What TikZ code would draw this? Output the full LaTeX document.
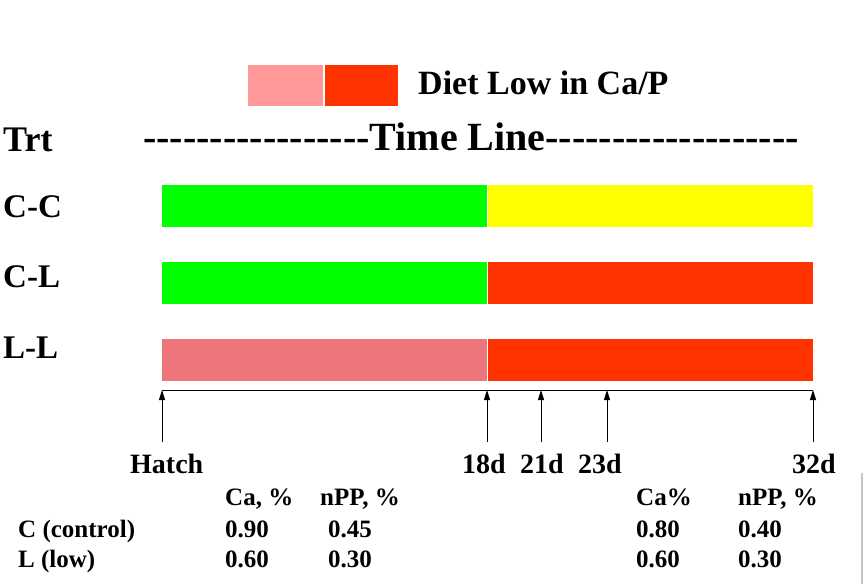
\documentclass[tikz,border=0pt]{standalone}
\usepackage{fontspec}
\setmainfont{Liberation Serif}
\usetikzlibrary{arrows.meta}
\definecolor{cgreen}{RGB}{0,255,0}
\definecolor{cyellow}{RGB}{255,255,0}
\definecolor{cred}{RGB}{255,51,0}
\definecolor{cpinkbar}{RGB}{237,118,123}
\definecolor{cpinkleg}{RGB}{255,153,153}
\newcommand{\dashrun}[1]{\foreach \i in {1,...,#1}{-}}
\begin{document}
\begin{tikzpicture}[x=1pt,y=-1pt,
  txt/.style={inner sep=0pt,anchor=base west,font=\bfseries},
  big/.style={txt,font=\bfseries\fontsize{40}{48}\selectfont},
  mid/.style={txt,font=\bfseries\fontsize{36}{42}\selectfont},
  row/.style={txt,font=\bfseries\fontsize{33}{40}\selectfont},
  lbl/.style={txt,font=\bfseries\fontsize{28}{34}\selectfont},
  tab/.style={txt,font=\bfseries\fontsize{25}{30}\selectfont},
  seg/.style={draw=none},
  tick/.style={line width=1pt,-{Triangle[length=10pt,width=6pt]}}]
\useasboundingbox[fill=white] (0,0) rectangle (864,584);
% legend
\fill[cpinkleg] (248,65) rectangle (323,106);
\fill[cred] (325,65) rectangle (398,106);
\node[txt,font=\bfseries\fontsize{34}{40}\selectfont] (legend) at (418,94) {Diet Low in Ca/P};
% headers
\node[mid] (trt) at (3,151) {Trt};
\node[big] (timeline) at (143,150) {-{}-{}-{}-{}-{}-{}-{}-{}-{}-{}-{}-{}-{}-{}-{}-{}-Time Line-{}-{}-{}-{}-{}-{}-{}-{}-{}-{}-{}-{}-{}-{}-{}-{}-{}-{}-};
% row labels
\node[row] (cc) at (3,217) {C-C};
\node[row] (cl) at (3,287) {C-L};
\node[row] (ll) at (3,358) {L-L};
% bars
\fill[cgreen] (162,185) rectangle (487,227);
\fill[cyellow] (488,185) rectangle (813,227);
\fill[cgreen] (162,262) rectangle (487,304);
\fill[cred] (488,262) rectangle (813,304);
\fill[cpinkbar] (162,339) rectangle (487,381);
\fill[cred] (488,339) rectangle (813,381);
% time axis
\coordinate (a0) at (162,390);
\coordinate (a1) at (487,390);
\coordinate (a2) at (541,390);
\coordinate (a3) at (607,390);
\coordinate (a4) at (813,390);
\coordinate (b0) at (162,442);
\coordinate (b1) at (487,442);
\coordinate (b2) at (541,442);
\coordinate (b3) at (607,442);
\coordinate (b4) at (813,442);
\draw[line width=1pt] (a0) -- (a4);
\foreach \k in {0,...,4} \draw[tick] (b\k) -- (a\k);
% labels
\node[lbl] (hatch) at (130,473) {Hatch};
\node[lbl] (d18) at (462,473) {18d};
\node[lbl] (d21) at (520,473) {21d};
\node[lbl] (d23) at (578,473) {23d};
\node[lbl] (d32) at (792,473) {32d};
% table
\node[tab] (h1) at (225,505) {Ca, \%};
\node[tab] (h2) at (320,505) {nPP, \%};
\node[tab] (h3) at (636,505) {Ca\%};
\node[tab] (h4) at (738,505) {nPP, \%};
\node[tab] (rc) at (18,537) {C (control)};
\node[tab] (c1) at (225,537) {0.90};
\node[tab] (c2) at (328,537) {0.45};
\node[tab] (c3) at (636,537) {0.80};
\node[tab] (c4) at (738,537) {0.40};
\node[tab] (rl) at (18,567) {L (low)};
\node[tab] (l1) at (225,567) {0.60};
\node[tab] (l2) at (328,567) {0.30};
\node[tab] (l3) at (636,567) {0.60};
\node[tab] (l4) at (738,567) {0.30};
% edge artefact
\draw[gray!45,line width=1.5pt] (862,473) -- (862,584);
\end{tikzpicture}
\end{document}
